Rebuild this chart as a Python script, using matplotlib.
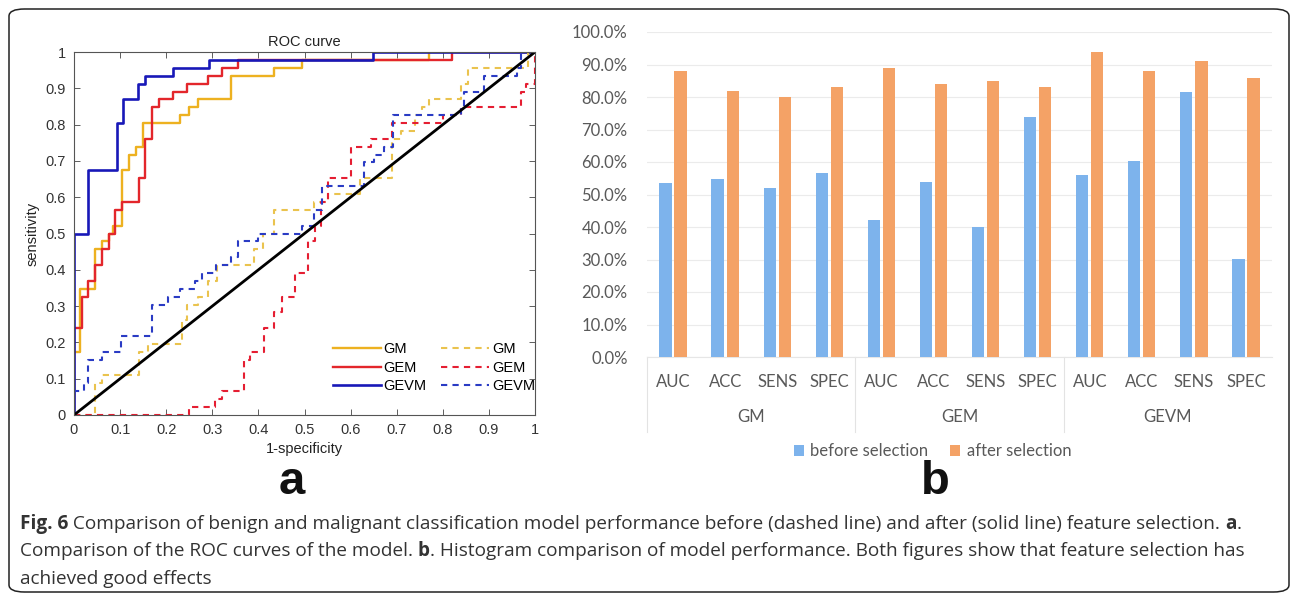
import matplotlib
matplotlib.use("Agg")
import matplotlib.pyplot as plt
from matplotlib.patches import FancyBboxPatch
import matplotlib.transforms as mtransforms

# ---- ROC data (step corners: at fpr[i] the tpr becomes tpr[i]) ----
gm_after_fpr = [0, 0, 0.012, 0.045, 0.06, 0.075, 0.085, 0.105, 0.12, 0.135, 0.15,
                0.23, 0.25, 0.27, 0.34, 0.433, 0.495, 0.77, 1.0]
gm_after_tpr = [0, 0.174, 0.348, 0.457, 0.478, 0.5, 0.522, 0.674, 0.717, 0.739, 0.804,
                0.826, 0.848, 0.87, 0.935, 0.957, 0.978, 1.0, 1.0]

gem_after_fpr = [0, 0, 0.018, 0.03, 0.045, 0.06, 0.075, 0.09, 0.105, 0.14, 0.155, 0.17,
                 0.185, 0.215, 0.245, 0.29, 0.32, 0.355, 0.82, 1.0]
gem_after_tpr = [0, 0.239, 0.326, 0.37, 0.413, 0.457, 0.5, 0.565, 0.587, 0.652, 0.761, 0.848,
                 0.87, 0.891, 0.913, 0.935, 0.957, 0.978, 1.0, 1.0]

gevm_after_fpr = [0, 0, 0.031, 0.094, 0.107, 0.138, 0.153, 0.215, 0.293, 0.648, 1.0]
gevm_after_tpr = [0, 0.5, 0.674, 0.804, 0.87, 0.913, 0.935, 0.957, 0.978, 1.0, 1.0]

gm_before_fpr = [0, 0.045, 0.06, 0.14, 0.16, 0.235, 0.245, 0.27, 0.29, 0.31, 0.39, 0.41,
                 0.433, 0.52, 0.55, 0.62, 0.69, 0.71, 0.74, 0.755, 0.77, 0.84, 0.855,
                 0.985, 1.0]
gm_before_tpr = [0, 0.087, 0.109, 0.174, 0.196, 0.261, 0.304, 0.326, 0.37, 0.413, 0.457, 0.5,
                 0.565, 0.587, 0.609, 0.652, 0.761, 0.783, 0.826, 0.848, 0.87, 0.913, 0.957,
                 1.0, 1.0]

gem_before_fpr = [0, 0.25, 0.305, 0.32, 0.369, 0.382, 0.413, 0.433, 0.452, 0.479, 0.508,
                  0.522, 0.535, 0.55, 0.6, 0.645, 0.69, 0.8, 0.84, 0.97, 0.98, 1.0]
gem_before_tpr = [0, 0.022, 0.043, 0.065, 0.152, 0.174, 0.239, 0.283, 0.326, 0.391, 0.478,
                  0.522, 0.587, 0.652, 0.739, 0.761, 0.804, 0.826, 0.848, 0.891, 0.913, 1.0]

gevm_before_fpr = [0, 0, 0.022, 0.031, 0.06, 0.103, 0.169, 0.204, 0.231, 0.262, 0.278, 0.308,
                   0.34, 0.355, 0.4, 0.495, 0.52, 0.537, 0.63, 0.65, 0.673, 0.692, 0.84,
                   0.847, 0.89, 0.96, 0.97, 1.0]
gevm_before_tpr = [0, 0.065, 0.087, 0.152, 0.174, 0.217, 0.304, 0.326, 0.348, 0.37, 0.391, 0.413,
                   0.435, 0.478, 0.5, 0.522, 0.565, 0.63, 0.696, 0.717, 0.739, 0.826, 0.848,
                   0.891, 0.935, 0.957, 1.0, 1.0]

# ---- bar data ----
models = ["GM", "GEM", "GEVM"]
metrics = ["AUC", "ACC", "SENS", "SPEC"]
before_selection = [0.535, 0.547, 0.520, 0.567,
                    0.422, 0.538, 0.400, 0.738,
                    0.560, 0.602, 0.815, 0.303]
after_selection = [0.880, 0.820, 0.800, 0.830,
                   0.890, 0.840, 0.850, 0.830,
                   0.940, 0.880, 0.910, 0.860]

W, H = 1292, 597
fig = plt.figure(figsize=(W / 100, H / 100), dpi=100)


def fx(px):
    return px / W


def fy(py):
    return 1 - py / H


# ---------------- panel a: ROC ----------------
roc_font = "Liberation Sans"
ax1 = fig.add_axes([fx(74), fy(415), fx(535) - fx(74), fy(52) - fy(415)])
dash = (0, (3, 2.5))
ax1.step(gm_after_fpr, gm_after_tpr, where="post", color="#EDB120", lw=1.7, label="GM")
ax1.step(gem_after_fpr, gem_after_tpr, where="post", color="#E3262B", lw=1.7, label="GEM")
ax1.step(gevm_after_fpr, gevm_after_tpr, where="post", color="#1818B8", lw=1.9, label="GEVM")
ax1.step(gm_before_fpr, gm_before_tpr, where="post", color="#EAC34E", lw=1.5, ls=dash, label="GM")
ax1.step(gem_before_fpr, gem_before_tpr, where="post", color="#E51E32", lw=1.5, ls=dash, label="GEM")
ax1.step(gevm_before_fpr, gevm_before_tpr, where="post", color="#2A3BC4", lw=1.5, ls=dash, label="GEVM")
ax1.plot([0, 1], [0, 1], color="black", lw=2)

ax1.set_xlim(0, 1)
ax1.set_ylim(0, 1)
ticks = [i / 10 for i in range(11)]
tick_labels = ["0"] + ["%.1f" % t for t in ticks[1:-1]] + ["1"]
ax1.set_xticks(ticks, tick_labels)
ax1.set_yticks(ticks, tick_labels)
ax1.tick_params(direction="in", length=4, width=0.6, colors="#444444", labelcolor="#333333",
                top=True, right=True, pad=6)
for lab in ax1.get_xticklabels() + ax1.get_yticklabels():
    lab.set_fontfamily(roc_font)
    lab.set_fontsize(10.5)
for s in ax1.spines.values():
    s.set_color("#555555")
    s.set_linewidth(0.8)
ax1.set_title("ROC curve", fontsize=10.5, family=roc_font, color="#222222", pad=4)
ax1.set_xlabel("1-specificity", fontsize=10.5, family=roc_font, color="#222222", labelpad=3)
ax1.set_ylabel("sensitivity", fontsize=10.5, family=roc_font, color="#222222", labelpad=4)
handles, labels = ax1.get_legend_handles_labels()
ax1.legend(handles, labels, ncol=2, frameon=False, loc="lower left",
           bbox_to_anchor=(0.545, 0.04), borderpad=0, handlelength=3.3,
           handletextpad=0.2, columnspacing=1.0, labelspacing=0.3,
           prop={"family": roc_font, "size": 10.5})

# ---------------- panel b: bars ----------------
bar_font = "Lato"
bar_size = 12
ax2 = fig.add_axes([fx(647), fy(357), fx(1272) - fx(647), fy(32) - fy(357)])
n = len(before_selection)
xs = list(range(n))
bw = 0.235
ax2.bar([x - 0.145 for x in xs], before_selection, width=bw, color="#7DB3EC",
        label="before selection", zorder=3)
ax2.bar([x + 0.145 for x in xs], after_selection, width=bw, color="#F4A266",
        label="after selection", zorder=3)
ax2.set_xlim(-0.5, n - 0.5)
ax2.set_ylim(0, 1.0)
yt = [i / 10 for i in range(11)]
ax2.set_yticks(yt, ["%.1f%%" % (t * 100) for t in yt])
ax2.set_xticks(xs, metrics * len(models))
ax2.tick_params(axis="both", length=0, labelcolor="#595959", labelsize=bar_size)
ax2.tick_params(axis="y", pad=14)
ax2.tick_params(axis="x", pad=12)
for lab in ax2.get_xticklabels() + ax2.get_yticklabels():
    lab.set_fontfamily(bar_font)
ax2.grid(axis="y", color="#EBEBEB", lw=0.8, zorder=0)
for s in ["top", "right", "left"]:
    ax2.spines[s].set_visible(False)
ax2.spines["bottom"].set_color("#E6E6E6")
ax2.spines["bottom"].set_linewidth(0.8)

trans = mtransforms.blended_transform_factory(ax2.transData, ax2.transAxes)
for g, name in enumerate(models):
    ax2.text(g * 4 + 1.5, -0.185, name, transform=trans, ha="center", va="center",
             fontsize=bar_size, family=bar_font, color="#595959")
    ax2.plot([g * 4 - 0.5, g * 4 - 0.5], [0, -0.23], transform=trans, color="#E3E3E3",
             lw=0.8, clip_on=False)
ax2.legend(loc="center", bbox_to_anchor=(0.457, -0.29), ncol=2, frameon=False,
           handlelength=0.6, handleheight=0.6, handletextpad=0.4, columnspacing=1.3,
           prop={"family": bar_font, "size": bar_size}, labelcolor="#595959")

# panel letters
fig.text(fx(292), fy(482), "a", fontsize=34, fontweight="bold", family="Liberation Sans",
         ha="center", va="center", color="#111111")
fig.text(fx(935), fy(482), "b", fontsize=34, fontweight="bold", family="Liberation Sans",
         ha="center", va="center", color="#111111")

# ---------------- caption ----------------
cap_font = "Open Sans"
cap_size = 13.7
caption_lines = [
    [("Fig. 6", "bold"),
     (" Comparison of benign and malignant classification model performance before (dashed line) "
      "and after (solid line) feature selection. ", "normal"),
     ("a", "bold"), (".", "normal")],
    [("Comparison of the ROC curves of the model. ", "normal"), ("b", "bold"),
     (". Histogram comparison of model performance. Both figures show that feature selection has",
      "normal")],
    [("achieved good effects", "normal")],
]
renderer = fig.canvas.get_renderer()
for i, segments in enumerate(caption_lines):
    x0 = fx(20)
    y0 = fy(524 + i * 27.5)
    for txt, weight in segments:
        t = fig.text(x0, y0, txt, fontsize=cap_size, fontweight=weight, family=cap_font,
                     ha="left", va="center", color="#333333")
        bb = t.get_window_extent(renderer=renderer)
        x0 += bb.width / W

# rounded frame
frame = FancyBboxPatch((fx(9), fy(592)), fx(1289) - fx(9), fy(9) - fy(592),
                       boxstyle="round,pad=0,rounding_size=0.012",
                       transform=fig.transFigure, fill=False, ec="#222222", lw=1.1)
fig.patches.append(frame)

fig.savefig("out.png", dpi=100)
